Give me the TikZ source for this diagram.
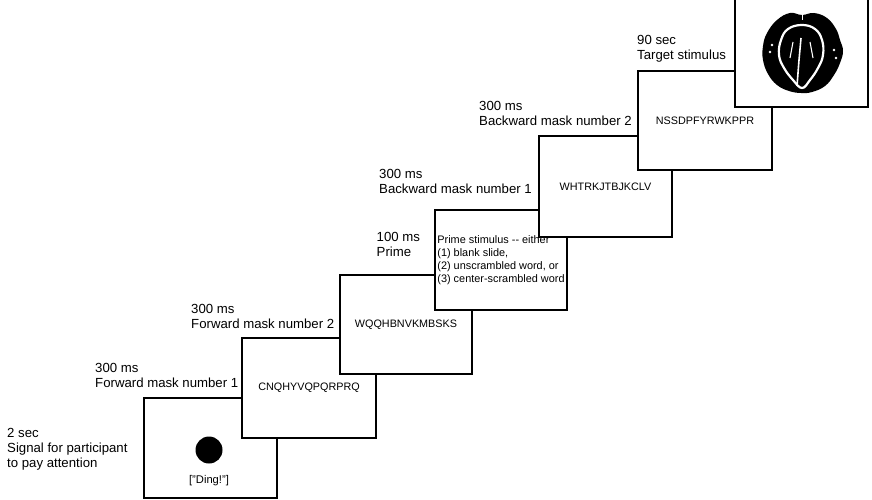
\documentclass[tikz,border=0pt]{standalone}
\usepackage{fontspec}
\setmainfont{Liberation Sans}

\begin{document}
\begin{tikzpicture}[x=1pt,y=-1pt,
  slide/.style={draw,fill=white,line width=1.1pt,inner sep=0pt,outer sep=0pt,
    minimum width=133,minimum height=100},
  mask/.style={font=\fontsize{10.8}{13}\selectfont},
  timing/.style={anchor=north west,inner sep=0pt,align=left,
    font=\fontsize{13.2}{15}\selectfont}]
\useasboundingbox (0,0) rectangle (872,500);
% slides, each one laid over the one before
\node[slide] (s1) at (210.5,448) {};
\node[circle,fill=black,minimum size=27,inner sep=0pt] (dot) at (209,450) {};
\node[font=\fontsize{11.2}{13}\selectfont] (ding) at (209,481) {["Ding!"]};
\node[slide,mask,minimum width=134] (s2) at (309,388) {CNQHYVQPQRPRQ};
\node[slide,mask,minimum width=132,minimum height=99] (s3) at (406,324.5) {WQQHBNVKMBSKS};
\node[slide,align=left,minimum width=132,font=\fontsize{10.9}{13}\selectfont] (s4) at (501,260)
  {Prime stimulus -{}- either\\(1) blank slide,\\(2) unscrambled word, or\\(3) center-scrambled word};
\node[slide,mask,minimum height=101] (s5) at (605.5,186.5) {WHTRKJTBJKCLV};
\node[slide,mask,minimum width=134,minimum height=99] (s6) at (705,120.5) {NSSDPFYRWKPPR};
\node[slide,minimum height=112] (s7) at (801.5,51) {};
% brain scan
\fill[black] plot[smooth cycle,tension=0.7] coordinates {(802,15) (814,13) (827,18)
  (836,29) (840,40) (843,51) (840,63) (834,75) (825,86) (812,92) (801,93) (789,91)
  (777,85) (768,74) (763,60) (763,46) (767,33) (777,20) (790,13)};
\draw[white,line width=2.2pt] plot[smooth cycle,tension=0.7] coordinates {(802,25)
  (815,29) (822,40) (823,55) (818,68) (810,80) (802,88) (793,80) (784,68) (779,55)
  (781,40) (788,29)};
\draw[white,line width=1.6pt] (801,38) -- (799,60) -- (797,86);
\draw[white,line width=1.1pt] (793,42) -- (790,58);
\draw[white,line width=1.1pt] (810,42) -- (813,58);
\draw[white,line width=1pt] (802,13) -- (802,20);
\foreach \x/\y in {770/52,772/45,834/50,836/58}
  \fill[white] (\x,\y) circle (1.4pt);
% timings
\node[timing] (t1) at (7,428) {2 sec\\Signal for participant\\to pay attention};
\node[timing] (t2) at (95,363.5) {300 ms\\Forward mask number 1};
\node[timing] (t3) at (191,304) {300 ms\\Forward mask number 2};
\node[timing] (t4) at (376.5,232) {100 ms\\Prime};
\node[timing] (t5) at (379,169) {300 ms\\Backward mask number 1};
\node[timing] (t6) at (479,101) {300 ms\\Backward mask number 2};
\node[timing] (t7) at (637,35) {90 sec\\Target stimulus};
\end{tikzpicture}
\end{document}
